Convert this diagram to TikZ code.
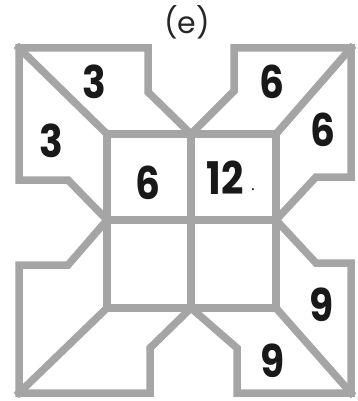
\documentclass[tikz,border=0pt]{standalone}
\usepackage{fontspec}
\usepackage{graphicx}
\setmainfont{Poppins}
\newcommand{\narrow}[1]{\scalebox{0.87}[1]{#1}}
\begin{document}
\begin{tikzpicture}[x=1pt,y=-1pt,
  wall/.style={draw={rgb,255:red,165;green,165;blue,165},line width=7.5pt,line join=miter,line cap=rect},
  num/.style={font=\fontsize{45}{45}\selectfont\bfseries,inner sep=0pt,text=black!90},
  ttl/.style={font=\fontsize{30}{30}\selectfont,inner sep=0pt,text=black!85}]
\useasboundingbox (0,0) rectangle (358,401);
% outer corners
\coordinate (TL) at (19,48);
\coordinate (TR) at (351,48);
\coordinate (BL) at (19,393);
\coordinate (BR) at (351,393);
% inner grid
\coordinate (i11) at (107,134);
\coordinate (i12) at (191,134);
\coordinate (i13) at (276,134);
\coordinate (i21) at (107,220);
\coordinate (i23) at (276,220);
\coordinate (i31) at (107,308);
\coordinate (i32) at (191,308);
\coordinate (i33) at (276,308);
% outer boundary
\draw[wall] (TL) -- (148,48) -- (148,92) -- (i12) -- (234,91) -- (234,48) -- (TR)
  -- (351,177) -- (316,177) -- (i23) -- (316,263) -- (351,263) -- (BR)
  -- (237,393) -- (237,348) -- (i32) -- (150,348) -- (150,393) -- (BL)
  -- (19,265) -- (68,265) -- (i21) -- (68,180) -- (19,180) -- cycle;
% inner grid
\draw[wall] (i11) rectangle (i33);
\draw[wall] (i12) -- (i32);
\draw[wall] (i21) -- (i23);
% diagonals
\draw[wall] (TL) -- (i11);
\draw[wall] (TR) -- (i13);
\draw[wall] (BL) -- (i31);
\draw[wall] (BR) -- (i33);
% labels
\node[ttl] (title) at (187,22) {(e)};
\node[num] (n1) at (94,82) {\narrow{3}};
\node[num] (n2) at (51,141) {\narrow{3}};
\node[num] (n3) at (148,183) {\narrow{6}};
\node[num] (n4) at (225,178) {\narrow{12}};
\node[font=\fontsize{10}{10}\selectfont\bfseries,inner sep=0pt] (dot) at (253,190) {.};
\node[num] (n5) at (272,82) {\narrow{6}};
\node[num] (n6) at (323,130) {\narrow{6}};
\node[num] (n7) at (322,305) {\narrow{9}};
\node[num] (n8) at (273,361) {\narrow{9}};
\end{tikzpicture}
\end{document}
